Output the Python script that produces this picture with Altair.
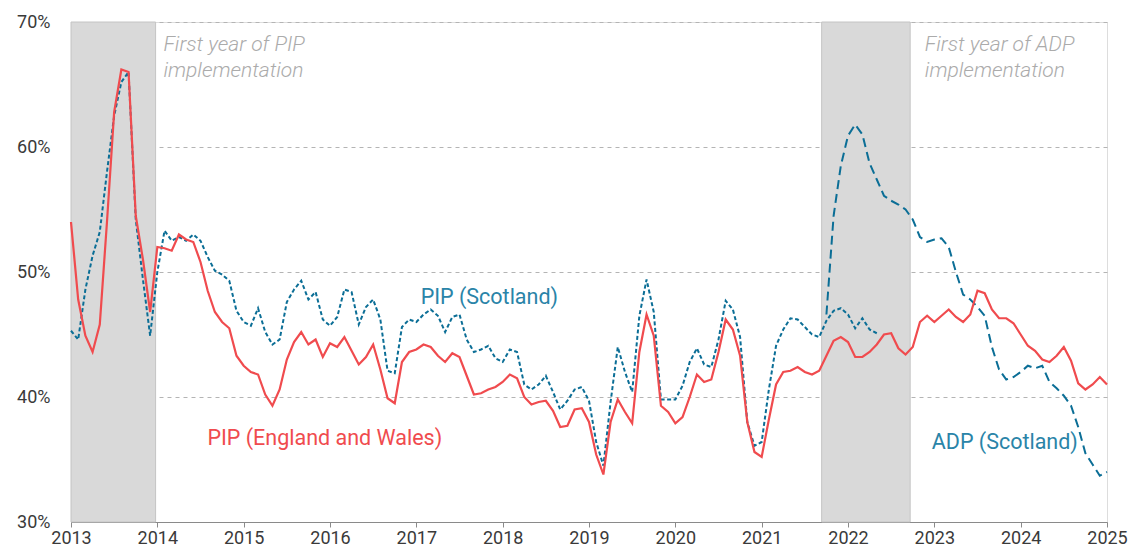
import altair as alt
import pandas as pd

# ---- data (monthly, starting January 2013) ----
pip_ew = [54.0, 47.8, 44.9, 43.6, 45.8, 54.0, 62.8, 66.2, 66.0, 54.5, 51.0, 46.8,
          52.0, 51.9, 51.7, 53.0, 52.6, 52.4, 50.8, 48.5, 46.8, 46.0, 45.5, 43.3,
          42.5, 42.0, 41.8, 40.2, 39.3, 40.6, 43.0, 44.4, 45.2, 44.2, 44.6, 43.2,
          44.3, 44.0, 44.8, 43.7, 42.6, 43.2, 44.2, 42.2, 39.9, 39.5, 42.8, 43.6,
          43.8, 44.2, 44.0, 43.3, 42.8, 43.5, 43.2, 41.7, 40.2, 40.3, 40.6, 40.8,
          41.2, 41.8, 41.5, 40.0, 39.4, 39.6, 39.7, 38.9, 37.6, 37.7, 39.0, 39.1,
          38.0, 35.4, 33.8, 38.0, 39.8, 38.8, 37.9, 43.6, 46.6, 44.9, 39.3, 38.8,
          37.9, 38.4, 40.0, 41.8, 41.2, 41.4, 43.6, 46.2, 45.4, 43.3, 38.0, 35.6,
          35.2, 38.2, 41.0, 42.0, 42.1, 42.4, 42.0, 41.8, 42.1, 43.3, 44.5, 44.8,
          44.4, 43.2, 43.2, 43.6, 44.2, 45.0, 45.1, 43.9, 43.4, 44.0, 46.0, 46.5,
          46.0, 46.5, 47.0, 46.4, 46.0, 46.6, 48.5, 48.3, 47.0, 46.3, 46.3, 45.9,
          45.0, 44.1, 43.7, 43.0, 42.8, 43.3, 44.0, 42.9, 41.1, 40.6, 41.0, 41.6,
          41.0]

pip_scot = [45.3, 44.6, 48.6, 51.3, 53.2, 58.0, 62.5, 65.2, 66.0, 54.2, 49.4, 44.9,
            50.0, 53.3, 52.5, 52.8, 52.5, 53.0, 52.5, 51.2, 50.1, 49.8, 49.3, 46.9,
            46.0, 45.7, 47.1, 45.2, 44.2, 44.6, 47.6, 48.6, 49.3, 47.8, 48.4, 46.2,
            45.7, 46.4, 48.6, 48.4, 45.8, 47.2, 47.8, 46.2, 42.1, 41.9, 45.6, 46.2,
            46.0, 46.6, 47.0, 46.5, 45.2, 46.4, 46.6, 44.6, 43.6, 43.8, 44.1, 43.1,
            42.8, 43.8, 43.6, 41.0, 40.6, 41.0, 41.7, 40.4, 39.0, 39.7, 40.6, 40.8,
            39.7, 36.4, 34.5, 39.6, 44.0, 42.0, 40.4, 46.5, 49.4, 46.8, 39.8, 39.8,
            39.8, 40.9, 42.8, 43.9, 42.6, 42.4, 44.6, 47.7, 47.0, 44.8, 38.0, 36.1,
            36.4, 40.6, 44.1, 45.4, 46.3, 46.2, 45.6, 45.0, 44.8, 46.1, 46.9, 47.1,
            46.6, 45.5, 46.3, 45.4, 45.1]

# ADP (Scotland) starts October 2021 (month index 105)
adp_start = 105
adp_scot = [46.6, 54.5, 58.5, 60.9, 61.8, 61.0, 58.7, 57.4, 56.1, 55.7, 55.4, 55.0,
            54.2, 52.8, 52.4, 52.6, 52.7, 52.0, 50.0, 48.2, 47.8, 47.2, 46.5, 44.0,
            42.2, 41.4, 41.6, 42.0, 42.5, 42.3, 42.5, 41.2, 40.7, 40.1, 39.3, 37.6,
            35.5, 34.6, 33.7, 34.0]

year_ticks = list(range(2013, 2026))
pct_ticks = [30, 40, 50, 60, 70]

# implementation periods (decimal years)
band_start = [2013.0, 2021.695]
band_end = [2013.98, 2022.72]


def to_year(i):
    return 2013 + i / 12.0


def frame(values, offset, series):
    return pd.DataFrame({
        "t": [to_year(offset + i) for i in range(len(values))],
        "v": values,
        "series": series,
    })


df_ew = frame(pip_ew, 0, "PIP (England and Wales)")
df_ps = frame(pip_scot, 0, "PIP (Scotland)")
df_adp = frame(adp_scot, adp_start, "ADP (Scotland)")
df_band = pd.DataFrame({"x0": band_start, "x1": band_end, "y0": [30] * 2, "y1": [70] * 2})

RED = "#f04b4e"
BLUE = "#0b6e96"
BLUE_TXT = "#2a84a8"
FONT = "Roboto"

xscale = alt.Scale(domain=[2013, 2025], nice=False, zero=False)
yscale = alt.Scale(domain=[30, 70], nice=False, zero=False)

xaxis = alt.Axis(values=year_ticks, format="d", grid=False, title=None,
                 domainColor="#8a8a8a", tickColor="#8a8a8a", tickSize=5,
                 labelFontSize=18, labelColor="#3a3a3a", labelPadding=2,
                 labelFlush=False, labelFont=FONT, labelFontWeight=400)
yaxis = alt.Axis(values=pct_ticks, labelExpr="datum.value + '%'", title=None,
                 grid=True, gridDash=[4, 4], gridColor="#b4b4b4", gridWidth=1,
                 domainColor="#8a8a8a", ticks=False, labelPadding=21,
                 labelFontSize=18, labelColor="#3a3a3a", labelFlush=False,
                 labelFont=FONT, labelFontWeight=400)

bands = alt.Chart(df_band).mark_rect(color="#d9d9d9", stroke="#c4c4c4", strokeWidth=1).encode(
    x=alt.X("x0:Q", scale=xscale, axis=xaxis),
    x2="x1:Q",
    y=alt.Y("y0:Q", scale=yscale, axis=yaxis),
    y2="y1:Q",
)

line_ps = alt.Chart(df_ps).mark_line(color=BLUE, strokeWidth=2, strokeDash=[4, 2.5]).encode(
    x=alt.X("t:Q", scale=xscale), y=alt.Y("v:Q", scale=yscale))
line_adp = alt.Chart(df_adp).mark_line(color=BLUE, strokeWidth=2, strokeDash=[9, 5]).encode(
    x=alt.X("t:Q", scale=xscale), y=alt.Y("v:Q", scale=yscale))
line_ew = alt.Chart(df_ew).mark_line(color=RED, strokeWidth=2.2).encode(
    x=alt.X("t:Q", scale=xscale), y=alt.Y("v:Q", scale=yscale))

labels = pd.DataFrame({
    "x": [2014.58, 2017.05, 2022.97],
    "y": [36.15, 47.45, 35.85],
    "text": ["PIP (England and Wales)", "PIP (Scotland)", "ADP (Scotland)"],
    "color": [RED, BLUE_TXT, BLUE_TXT],
})
series_text = alt.Chart(labels).mark_text(align="left", baseline="alphabetic", fontSize=21.5,
                                          font=FONT, fontWeight=400).encode(
    x=alt.X("x:Q", scale=xscale), y=alt.Y("y:Q", scale=yscale),
    text="text:N", color=alt.Color("color:N", scale=None))

notes = pd.DataFrame({
    "x": [2014.07, 2022.89],
    "y": [67.7, 67.7],
    "text": ["First year of PIP\nimplementation", "First year of ADP\nimplementation"],
})
note_text = alt.Chart(notes).mark_text(align="left", baseline="alphabetic", fontSize=21,
                                       font=FONT, fontWeight=300, fontStyle="italic",
                                       color="#ababab", lineBreak="\n", lineHeight=26).encode(
    x=alt.X("x:Q", scale=xscale), y=alt.Y("y:Q", scale=yscale), text="text:N")

chart = alt.layer(bands, line_ps, line_adp, line_ew, series_text, note_text).properties(
    width=1036, height=500,
    autosize=alt.AutoSizeParams(type="none"),
    padding={"left": 63, "top": 14, "right": 27, "bottom": 25},
).configure_view(stroke=None).configure(font=FONT)

chart.save("out.html", embed_options={"renderer": "svg", "actions": False})
